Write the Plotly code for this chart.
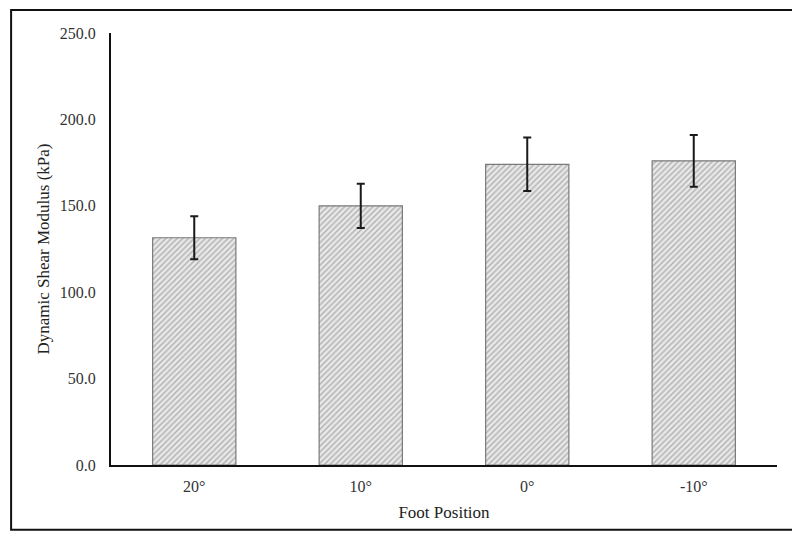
import plotly.graph_objects as go

positions = ["20°", "10°", "0°", "-10°"]
modulus = [131.5, 150.0, 174.0, 176.0]
modulus_sd = [12.5, 12.8, 15.5, 15.0]

fig = go.Figure()
fig.add_trace(go.Bar(
    x=positions,
    y=modulus,
    width=0.5,
    marker=dict(
        color="white",
        line=dict(color="#7a7a7a", width=1.2),
        pattern=dict(shape="/", fgcolor="#777777", bgcolor="#e8e8e8", size=4, solidity=0.35),
    ),
    error_y=dict(type="data", array=modulus_sd, visible=True, color="#1a1a1a", thickness=2, width=4),
))

# page body adds an 8px offset, so the figure is drawn 8px smaller
fig.update_layout(
    width=792,
    height=532,
    margin=dict(l=103, r=23, t=25, b=75),
    paper_bgcolor="white",
    plot_bgcolor="white",
    showlegend=False,
    font=dict(family="Liberation Serif", size=16, color="#333"),
    xaxis=dict(
        title=dict(text="Foot Position", standoff=12, font=dict(size=17, color="#222")),
        showline=True, linecolor="#111", linewidth=2,
        ticks="outside", ticklen=6, tickcolor="rgba(0,0,0,0)", showgrid=False,
    ),
    yaxis=dict(
        title=dict(text="Dynamic Shear Modulus (kPa)", standoff=6, font=dict(size=17, color="#222")),
        range=[0, 250], dtick=50, tickformat=".1f",
        showline=True, linecolor="#111", linewidth=2,
        ticks="outside", ticklen=10, tickcolor="rgba(0,0,0,0)",
        showgrid=False, zeroline=False,
    ),
    shapes=[dict(
        type="rect", xref="paper", yref="paper",
        x0=-0.150, x1=1.026, y0=-0.150, y1=1.053,
        line=dict(color="#111", width=2),
    )],
)

fig.write_html("out.html")
